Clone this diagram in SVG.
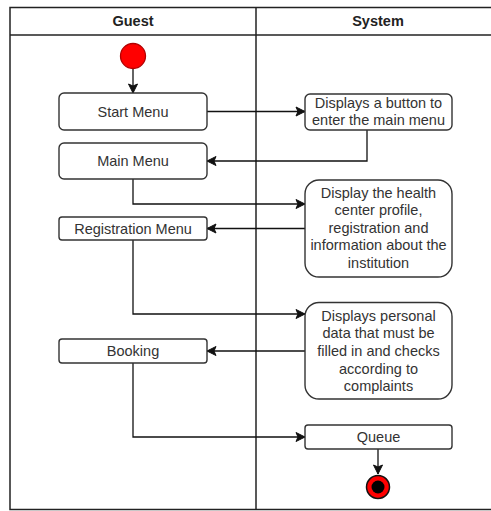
<svg xmlns="http://www.w3.org/2000/svg" width="491" height="511" viewBox="0 0 491 511">
<style>
text{font-family:"Liberation Sans",Arial,sans-serif;font-size:14.5px;fill:#333;text-anchor:middle;dominant-baseline:central}
.hd{font-weight:bold;fill:#222}
.lane{fill:none;stroke:#222;stroke-width:1.5}
.n{fill:#fff;stroke:#333;stroke-width:1.4}
.c{fill:none;stroke:#111;stroke-width:1.3;marker-end:url(#ah)}
</style>
<defs>
<marker id="ah" markerUnits="userSpaceOnUse" markerWidth="12" markerHeight="12" refX="10" refY="6" orient="auto">
<path d="M1,1.5 L10,6 L1,10.5 L3,6 Z" fill="#111" stroke="#111" stroke-width="1"/>
</marker>
</defs>
<rect width="491" height="511" fill="#fff"/>
<g id="lanes">
<path class="lane" d="M500,7.5 H10 V509.5 H500"/>
<line class="lane" x1="10" y1="35" x2="500" y2="35"/>
<line class="lane" x1="256" y1="7.5" x2="256" y2="509.5"/>
<text class="hd" x="133" y="21">Guest</text>
<text class="hd" x="378" y="21">System</text>
</g>
<g id="connectors">
<path class="c" d="M133,68.5 V93"/>
<path class="c" d="M207,111.5 H305"/>
<path class="c" d="M367,130 V161 H207"/>
<path class="c" d="M133,179 V204 H305"/>
<path class="c" d="M305,228.5 H207"/>
<path class="c" d="M133,240 V314 H305"/>
<path class="c" d="M305,351 H207"/>
<path class="c" d="M133,363 V437 H305"/>
<path class="c" d="M378,449 V474"/>
</g>
<g id="start"><circle cx="133" cy="56" r="12.5" fill="#f00" stroke="#b20000" stroke-width="1.3"/></g>
<g id="startMenu"><rect class="n" x="59" y="93" width="148" height="37" rx="5"/><text x="133" y="111.5">Start Menu</text></g>
<g id="displaysButton"><rect class="n" x="305" y="94" width="147" height="36" rx="5"/><text x="378.5" y="103">Displays a button to</text><text x="378.5" y="120">enter the main menu</text></g>
<g id="mainMenu"><rect class="n" x="59" y="143" width="148" height="36" rx="5"/><text x="133" y="161">Main Menu</text></g>
<g id="displayHealth"><rect class="n" x="305" y="180" width="147" height="97" rx="14"/><text x="378.5" y="192.7">Display the health</text><text x="378.5" y="210">center profile,</text><text x="378.5" y="227.5">registration and</text><text x="378.5" y="245.3">information about the</text><text x="378.5" y="263">institution</text></g>
<g id="registrationMenu"><rect class="n" x="59" y="217" width="148" height="23" rx="3"/><text x="133" y="228.5">Registration Menu</text></g>
<g id="displaysPersonal"><rect class="n" x="305" y="302.5" width="147" height="96.5" rx="14"/><text x="378.5" y="315.7">Displays personal</text><text x="378.5" y="333.3">data that must be</text><text x="378.5" y="350.8">filled in and checks</text><text x="378.5" y="368.6">according to</text><text x="378.5" y="386.3">complaints</text></g>
<g id="booking"><rect class="n" x="59" y="339" width="148" height="24" rx="3"/><text x="133" y="351">Booking</text></g>
<g id="queue"><rect class="n" x="305" y="425" width="147" height="24" rx="3"/><text x="378.5" y="437">Queue</text></g>
<g id="end"><circle cx="378" cy="487" r="11.5" fill="#f00" stroke="#111" stroke-width="1.5"/><circle cx="378" cy="487" r="6.5" fill="#000"/></g>
</svg>
